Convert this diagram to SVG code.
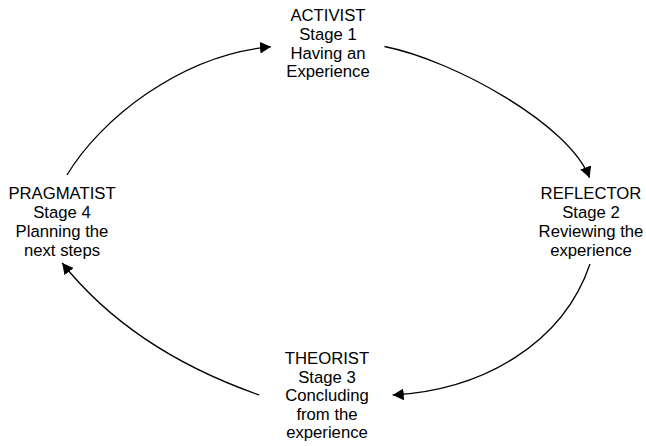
<svg xmlns="http://www.w3.org/2000/svg" width="646" height="446" viewBox="0 0 646 446">
  <style>
    .label { font-family: "Liberation Sans", Arial, Helvetica, sans-serif; font-size: 16.7px; fill: #000; text-anchor: middle; }
    .flow { fill: none; stroke: #000; stroke-width: 1.3; marker-end: url(#arrow); }
  </style>
  <defs>
    <marker id="arrow" viewBox="0 -6 12 12" refX="11" refY="0" markerWidth="12" markerHeight="12" markerUnits="userSpaceOnUse" orient="auto">
      <path d="M0,-5.8 L11,0 L0,5.8 z" fill="#000"/>
    </marker>
  </defs>
  <rect width="646" height="446" fill="#fff"/>

  <!-- cycle connectors -->
  <g id="connectors">
    <path class="flow" d="M67,175 C100,120 180,55 271,46.7"/>
    <path class="flow" d="M384.5,46.5 C454.5,60.5 570,125 589.5,177.8"/>
    <path class="flow" d="M590,264 C562.8,344 482.7,390 392.7,395"/>
    <path class="flow" d="M259.3,395 C179.3,367 110,323 62.2,263"/>
  </g>

  <g id="activist">
    <text class="label" x="328" y="21">ACTIVIST</text>
    <text class="label" x="328" y="39.8">Stage 1</text>
    <text class="label" x="328" y="58.6">Having an</text>
    <text class="label" x="328" y="77.3">Experience</text>
  </g>

  <g id="reflector">
    <text class="label" x="591" y="199.3">REFLECTOR</text>
    <text class="label" x="591" y="218.1">Stage 2</text>
    <text class="label" x="591" y="236.9">Reviewing the</text>
    <text class="label" x="591" y="255.5">experience</text>
  </g>

  <g id="theorist">
    <text class="label" x="327" y="364.3">THEORIST</text>
    <text class="label" x="327" y="382.8">Stage 3</text>
    <text class="label" x="327" y="401.3">Concluding</text>
    <text class="label" x="327" y="419.8">from the</text>
    <text class="label" x="327" y="438.3">experience</text>
  </g>

  <g id="pragmatist">
    <text class="label" x="62" y="199.3">PRAGMATIST</text>
    <text class="label" x="62" y="218.1">Stage 4</text>
    <text class="label" x="62" y="236.9">Planning the</text>
    <text class="label" x="62" y="255.5">next steps</text>
  </g>
</svg>
